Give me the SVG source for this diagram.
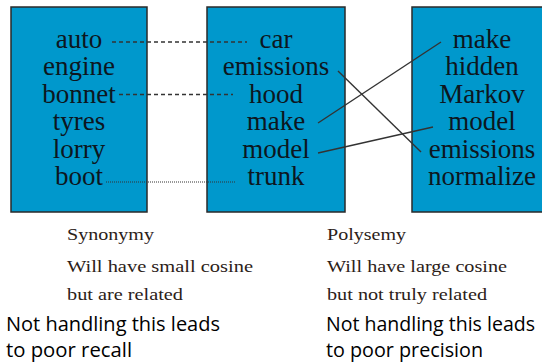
<svg xmlns="http://www.w3.org/2000/svg" width="542" height="364" viewBox="0 0 542 364">
  <style>
    .box { fill: #0098cc; stroke: #2a2a2a; stroke-width: 1.5; }
    .term { font-family: 'Liberation Serif', 'Times New Roman', Times, serif; font-size: 27px; fill: #0d1620; text-anchor: middle; }
    .note { font-family: 'Liberation Serif', 'Times New Roman', Times, serif; font-size: 17px; fill: #2b2118; }
    .take { font-family: 'Open Sans', 'Noto Sans', sans-serif; font-size: 20px; fill: #000; }
    .link { stroke: #333; stroke-width: 1.4; fill: none; }
    .dash { stroke-dasharray: 4 3; }
    .dot { stroke-dasharray: 1 1; stroke-width: 1.2; }
  </style>
  <rect width="542" height="364" fill="#fff"/>

  <g id="terms-left">
    <rect class="box" x="11" y="7" width="136" height="205"/>
    <text class="term" x="79" y="47.5">auto</text>
    <text class="term" x="79" y="75">engine</text>
    <text class="term" x="79" y="102.5">bonnet</text>
    <text class="term" x="79" y="130">tyres</text>
    <text class="term" x="79" y="157.5">lorry</text>
    <text class="term" x="79" y="185">boot</text>
  </g>

  <g id="terms-middle">
    <rect class="box" x="207" y="7" width="138" height="205"/>
    <text class="term" x="276" y="47.5">car</text>
    <text class="term" x="276" y="75">emissions</text>
    <text class="term" x="276" y="102.5">hood</text>
    <text class="term" x="276" y="130">make</text>
    <text class="term" x="276" y="157.5">model</text>
    <text class="term" x="276" y="185">trunk</text>
  </g>

  <g id="terms-right">
    <rect class="box" x="412" y="7" width="140" height="205"/>
    <text class="term" x="482" y="47.5">make</text>
    <text class="term" x="482" y="75">hidden</text>
    <text class="term" x="482" y="102.5">Markov</text>
    <text class="term" x="482" y="130">model</text>
    <text class="term" x="482" y="157.5">emissions</text>
    <text class="term" x="482" y="185">normalize</text>
  </g>

  <g id="connectors">
    <line class="link dash" x1="112" y1="42" x2="247" y2="42"/>
    <line class="link dash" x1="119" y1="94.5" x2="233" y2="94.5"/>
    <line class="link dot" x1="106" y1="182" x2="235" y2="182"/>
    <line class="link" x1="338" y1="71" x2="421" y2="152"/>
    <line class="link" x1="318" y1="123" x2="441" y2="42"/>
    <line class="link" x1="318" y1="153" x2="433" y2="127"/>
  </g>

  <g id="synonymy">
    <text class="note" x="67" y="240" textLength="87" lengthAdjust="spacingAndGlyphs">Synonymy</text>
    <text class="note" x="67" y="271.5" textLength="186" lengthAdjust="spacingAndGlyphs">Will have small cosine</text>
    <text class="note" x="67" y="300" textLength="116" lengthAdjust="spacingAndGlyphs">but are related</text>
    <text class="take" x="6" y="331" textLength="214" lengthAdjust="spacingAndGlyphs">Not handling this leads</text>
    <text class="take" x="6" y="357" textLength="126" lengthAdjust="spacingAndGlyphs">to poor recall</text>
  </g>

  <g id="polysemy">
    <text class="note" x="327" y="240" textLength="79" lengthAdjust="spacingAndGlyphs">Polysemy</text>
    <text class="note" x="327" y="271.5" textLength="180" lengthAdjust="spacingAndGlyphs">Will have large cosine</text>
    <text class="note" x="327" y="300" textLength="160" lengthAdjust="spacingAndGlyphs">but not truly related</text>
    <text class="take" x="326" y="331" textLength="209" lengthAdjust="spacingAndGlyphs">Not handling this leads</text>
    <text class="take" x="326" y="357" textLength="157" lengthAdjust="spacingAndGlyphs">to poor precision</text>
  </g>
</svg>
